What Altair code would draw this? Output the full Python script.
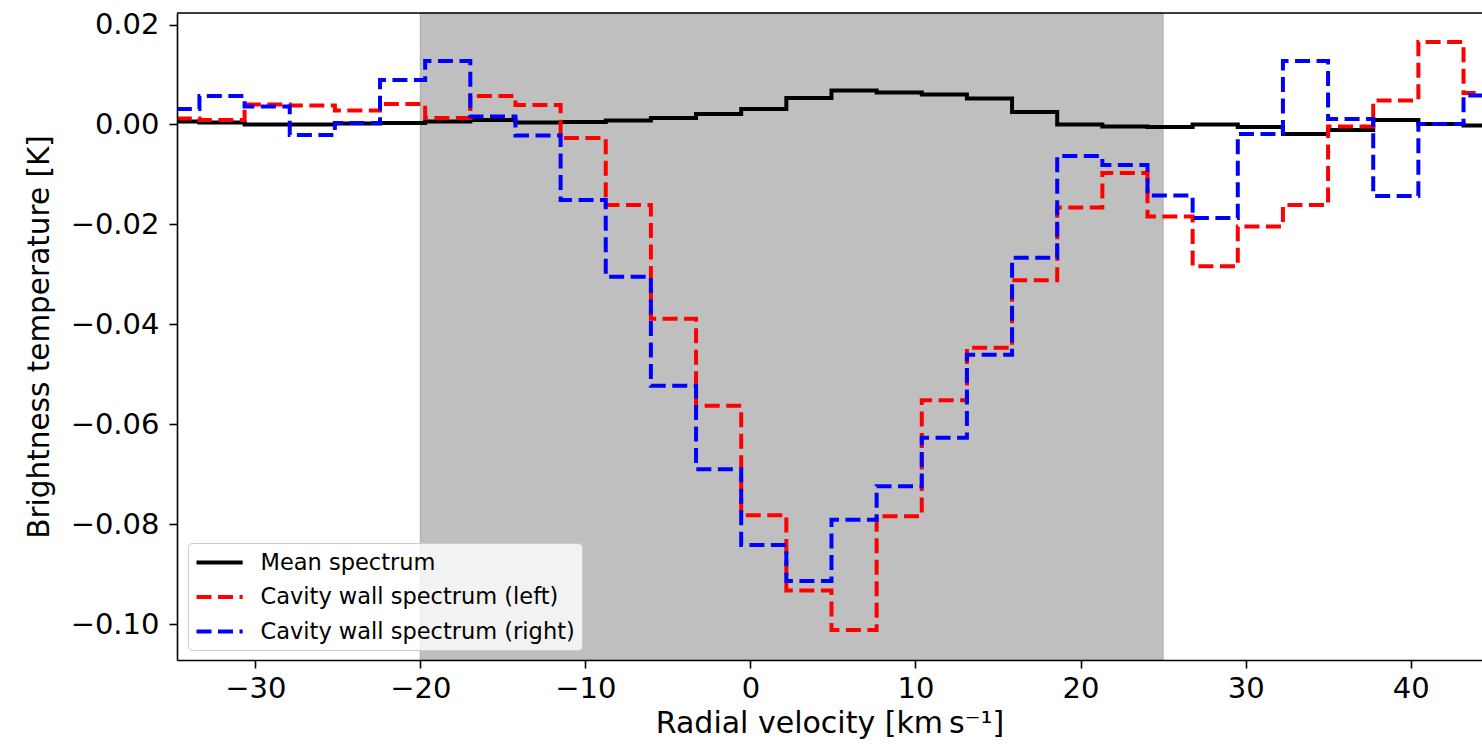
import altair as alt
import pandas as pd

# Channel centre velocities [km/s]
velocity = [-34.75, -32.01, -29.28, -26.54, -23.81, -21.07, -18.34, -15.60, -12.87, -10.13,
            -7.40, -4.66, -1.93, 0.81, 3.54, 6.28, 9.01, 11.75, 14.48, 17.22,
            19.95, 22.69, 25.42, 28.16, 30.89, 33.63, 36.36, 39.10, 41.83, 44.57]

mean_spectrum = [0.0006, 0.0004, 0.0000, 0.0000, 0.0002, 0.0003, 0.0006, 0.0009, 0.0004, 0.0005,
                 0.0008, 0.0013, 0.0021, 0.0031, 0.0053, 0.0068, 0.0064, 0.0060, 0.0052, 0.0025,
                 0.0000, -0.0004, -0.0005, 0.0000, -0.0005, -0.0019, -0.0011, 0.0009, 0.0001, -0.0002]

left_spectrum = [0.0012, 0.0009, 0.0040, 0.0038, 0.0028, 0.0041, 0.0013, 0.0057, 0.0039, -0.0027,
                 -0.0161, -0.0389, -0.0563, -0.0782, -0.0933, -0.1012, -0.0784, -0.0552, -0.0447, -0.0312,
                 -0.0166, -0.0097, -0.0184, -0.0284, -0.0204, -0.0161, -0.0004, 0.0048, 0.0165, 0.0063]

right_spectrum = [0.0031, 0.0057, 0.0036, -0.0021, 0.0003, 0.0089, 0.0127, 0.0016, -0.0022, -0.0151,
                  -0.0305, -0.0523, -0.0690, -0.0842, -0.0914, -0.0791, -0.0724, -0.0627, -0.0461, -0.0267,
                  -0.0063, -0.0081, -0.0142, -0.0187, -0.0019, 0.0127, 0.0011, -0.0143, 0.0001, 0.0058]

series_names = ["Mean spectrum", "Cavity wall spectrum (left)", "Cavity wall spectrum (right)"]
series_colors = ["#000000", "#ff0000", "#0000ff"]
series_dashes = [[1, 0], [15, 6.5], [15, 6.5]]

span_start = [-20]
span_end = [25]

x_ticks = [-30, -20, -10, 0, 10, 20, 30, 40]
y_ticks = [0.02, 0.0, -0.02, -0.04, -0.06, -0.08, -0.10]
x_range = [-34.74, 44.32]
y_range = [-0.1072, 0.02232]

rows = []
for name, vals in zip(series_names, [mean_spectrum, left_spectrum, right_spectrum]):
    for v, t in zip(velocity, vals):
        rows.append({"series": name, "velocity": v, "value": t})
df = pd.DataFrame(rows)
span_df = pd.DataFrame({"start": span_start, "end": span_end})
top_df = pd.DataFrame({"top": [y_range[1]]})

FONT = "DejaVu Sans"

x_scale = alt.Scale(domain=x_range, nice=False, zero=False)
y_scale = alt.Scale(domain=y_range, nice=False, zero=False)

legend = alt.Legend(
    orient="none", legendX=11, legendY=530, title=None,
    fillColor="rgba(255,255,255,0.8)", strokeColor="#cccccc", cornerRadius=4, padding=6.5,
    labelFont=FONT, labelFontSize=22.5, labelColor="black", labelOffset=40, labelLimit=500,
    symbolType="M-1,0L3.2,0", symbolSize=484, symbolStrokeWidth=4, rowPadding=9.5,
)

color = alt.Color("series:N", scale=alt.Scale(domain=series_names, range=series_colors), legend=legend)
dash = alt.StrokeDash("series:N", scale=alt.Scale(domain=series_names, range=series_dashes), legend=legend)

x_axis = alt.Axis(values=x_ticks, format="d", title="Radial velocity [km\u2009s\u207b\u00b9]",
                  grid=False, domainColor="black", domainWidth=1.6, tickColor="black", tickWidth=1.6,
                  tickSize=8, labelFont=FONT, labelFontSize=29, labelColor="black", labelPadding=6,
                  titleFont=FONT, titleFontSize=30, titleFontWeight="normal", titleColor="black",
                  titlePadding=5, zindex=1)
y_axis = alt.Axis(values=y_ticks, format=".2f", title="Brightness temperature [K]",
                  grid=False, domainColor="black", domainWidth=1.6, tickColor="black", tickWidth=1.6,
                  tickSize=8, labelFont=FONT, labelFontSize=29, labelColor="black", labelPadding=10,
                  titleFont=FONT, titleFontSize=29.5, titleFontWeight="normal", titleColor="black",
                  titlePadding=16, zindex=1)

span = alt.Chart(span_df).mark_rect(color="#bfbfbf", stroke="#a8a8a8", strokeWidth=1).encode(
    x=alt.X("start:Q", scale=x_scale, axis=x_axis),
    x2=alt.X2("end:Q"),
)

top_frame = alt.Chart(top_df).mark_rule(color="black", strokeWidth=1.6).encode(
    y=alt.Y("top:Q", scale=y_scale, axis=y_axis),
)

def series_layer(name):
    return alt.Chart(df).transform_filter(alt.datum.series == name).mark_line(
        interpolate="step", strokeWidth=4, strokeCap="butt", clip=True
    ).encode(
        x=alt.X("velocity:Q", scale=x_scale, axis=x_axis),
        y=alt.Y("value:Q", scale=y_scale, axis=y_axis),
        color=color,
        strokeDash=dash,
    )

chart = alt.layer(
    span,
    series_layer(series_names[0]),
    series_layer(series_names[1]),
    series_layer(series_names[2]),
    top_frame,
).properties(
    width=1305, height=647,
    padding={"left": 177, "top": 13, "right": 0, "bottom": 94},
    autosize=alt.AutoSizeParams(type="none"),
).configure_view(stroke="transparent").configure(background="white")

chart.save("out.html", embed_options={"renderer": "svg", "actions": False})
